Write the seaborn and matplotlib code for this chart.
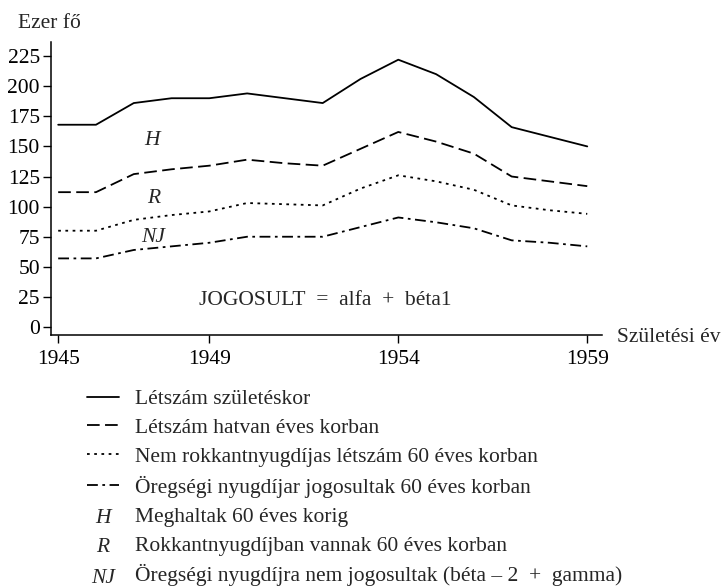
import pandas as pd
import matplotlib
matplotlib.use("Agg")
import matplotlib.pyplot as plt
import matplotlib.text as mtext
from matplotlib.legend_handler import HandlerBase
import seaborn as sns

# Adatok (ezer fő), leolvasva az ábráról
years = list(range(1945, 1960))
letszam_szuleteskor = [168, 168, 186, 190, 190, 194, 190, 186, 206, 222, 210, 191, 166, 158, 150]
letszam_hatvan = [112, 112, 127, 131, 134, 139, 136, 134, 148, 162, 154, 144, 125, 121, 117]
nem_rokkant = [80, 80, 89, 93, 96, 103, 102, 101, 115, 126, 121, 114, 101, 97, 94]
oregsegi = [57, 57, 64, 67, 70, 75, 75, 75, 83, 91, 87, 82, 72, 70, 67]

series_labels = [
    "Létszám születéskor",
    "Létszám hatvan éves korban",
    "Nem rokkantnyugdíjas létszám 60 éves korban",
    "Öregségi nyugdíjar jogosultak 60 éves korban",
]
letter_labels = ["H", "R", "NJ"]
letter_texts = [
    "Meghaltak 60 éves korig",
    "Rokkantnyugdíjban vannak 60 éves korban",
    "Öregségi nyugdíjra nem jogosultak (béta – 2\u2002+\u2002gamma)",
]
xticks = [1945, 1949, 1954, 1959]
yticks = list(range(0, 226, 25))

sns.set_style("ticks")
plt.rcParams["font.family"] = ["Liberation Serif", "DejaVu Serif"]
FS = 15.5

df = pd.DataFrame({
    "ev": years * 4,
    "ertek": letszam_szuleteskor + letszam_hatvan + nem_rokkant + oregsegi,
    "sor": sum([[lab] * len(years) for lab in series_labels], []),
})

fig = plt.figure(figsize=(7.21, 5.88), dpi=100)
ax = fig.add_axes([51 / 721, 1 - 335 / 588, (602 - 51) / 721, (335 - 42) / 588])

dash_styles = {
    series_labels[0]: "",
    series_labels[1]: (7, 3),
    series_labels[2]: (1.5, 2.5),
    series_labels[3]: (6, 2.5, 1.5, 2.5),
}
sns.lineplot(data=df, x="ev", y="ertek", style="sor", style_order=series_labels,
             dashes=dash_styles, color="black", linewidth=1.3, errorbar=None,
             sort=False, legend=False, ax=ax)

ax.set_xlim(1944.81, 1959.39)
ax.set_ylim(-6.6, 236.7)
ax.set_xticks(xticks)
ax.set_yticks(yticks)
ax.set_xlabel("")
ax.set_ylabel("")
ax.tick_params(axis="both", direction="out", length=6, width=1, color="black",
               labelsize=FS, labelcolor="black")
ax.tick_params(axis="y", pad=2)
ax.tick_params(axis="x", pad=4.5)
sns.despine(ax=ax)
for sp in ["left", "bottom"]:
    ax.spines[sp].set_color("black")
    ax.spines[sp].set_linewidth(1.1)

# betűjelek a görbék között
ax.text(1947.49, 155.3, "H", style="italic", fontsize=FS, ha="center", va="center")
ax.text(1947.52, 107, "R", style="italic", fontsize=FS, ha="center", va="center")
ax.text(1947.52, 74.5, "NJ", style="italic", fontsize=FS, ha="center", va="center")
ax.text(1948.73, 22.3, "JOGOSULT\u2002=\u2002alfa\u2002+\u2002béta1", fontsize=FS,
        ha="left", va="center")

fig.text(18 / 721, 1 - 23 / 588, "Ezer fő", fontsize=FS, va="center", ha="left")
fig.text(617 / 721, 1 - 337 / 588, "Születési év", fontsize=FS, va="center", ha="left")


class TextHandle:
    def __init__(self, text):
        self.text = text


class TextHandler(HandlerBase):
    def create_artists(self, legend, orig_handle, xdescent, ydescent, width, height, fontsize, trans):
        t = mtext.Text(width / 2 - xdescent, height / 2 - ydescent - 0.2 * fontsize,
                       orig_handle.text, ha="center", va="center", fontsize=fontsize,
                       style="italic", transform=trans)
        return [t]


handles = list(ax.get_lines()) + [TextHandle(t) for t in letter_labels]
labels = series_labels + letter_texts
fig.legend(handles, labels, loc="upper left", bbox_to_anchor=(87 / 721, 1 - 389 / 588),
           frameon=False, fontsize=FS, borderpad=0, borderaxespad=0,
           handlelength=1.49, handletextpad=0.74, labelspacing=0.41,
           handler_map={TextHandle: TextHandler()})

fig.savefig("out.png", dpi=100)
